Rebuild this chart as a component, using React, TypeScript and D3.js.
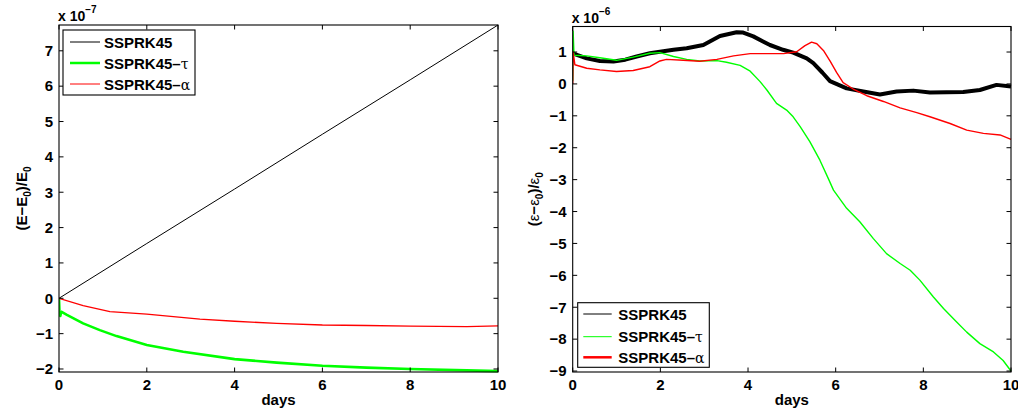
import React from "react";
import * as d3 from "d3";

type P = [number, number];

// ---------- left panel: (E-E0)/E0 (x 1e-7) ----------
const leftBlack: P[] = [[0, 0], [2, 1.55], [4, 3.09], [6, 4.64], [8, 6.18], [10, 7.73]];
const leftGreen: P[] = [
  [0, 0], [0.01, -0.35], [0.03, -0.5], [0.05, -0.38], [0.18, -0.47], [0.55, -0.71], [0.93, -0.9],
  [1.31, -1.07], [2, -1.32], [2.83, -1.51], [4, -1.72], [4.96, -1.82], [6, -1.91],
  [7, -1.96], [8, -2.0], [9.29, -2.04], [10, -2.06],
];
const leftRed: P[] = [
  [0, 0], [0.55, -0.21], [1.16, -0.38], [2, -0.45], [3.21, -0.59], [4, -0.65], [4.96, -0.71],
  [6, -0.755], [7, -0.77], [8, -0.79], [9.29, -0.8], [10, -0.78],
];

// ---------- right panel: (eps-eps0)/eps0 (x 1e-6) ----------
const rightBlack: P[] = [
  [0, 0.96], [0.32, 0.8], [0.62, 0.72], [0.93, 0.7], [1.2, 0.76], [1.46, 0.86], [1.76, 0.96],
  [1.99, 1.01], [2.3, 1.07], [2.6, 1.12], [2.98, 1.22], [3.36, 1.5], [3.74, 1.62], [3.89, 1.61],
  [4.12, 1.49], [4.5, 1.22], [4.8, 1.07], [5.03, 0.98], [5.34, 0.8], [5.49, 0.65], [5.7, 0.35],
  [5.87, 0.09], [6.25, -0.14], [6.63, -0.24], [7.01, -0.33], [7.39, -0.24], [7.77, -0.21],
  [8.15, -0.27], [8.53, -0.26], [8.91, -0.25], [9.29, -0.19], [9.67, -0.03], [10, -0.08],
];
const rightGreen: P[] = [
  [0, 0.1], [0.01, 1.65], [0.03, 0.9], [0.32, 0.88], [0.62, 0.82], [1.0, 0.74], [1.38, 0.84],
  [1.76, 0.96], [1.99, 0.98], [2.3, 0.86], [2.6, 0.77], [2.9, 0.72], [3.29, 0.73], [3.51, 0.68],
  [3.82, 0.58], [4.05, 0.4], [4.27, 0.08], [4.43, -0.19], [4.65, -0.61], [4.88, -0.82],
  [5.03, -1.03], [5.19, -1.34], [5.41, -1.81], [5.64, -2.39], [5.83, -2.96], [5.95, -3.33],
  [6.25, -3.9], [6.55, -4.32], [6.86, -4.85], [7.16, -5.32], [7.47, -5.63], [7.7, -5.84],
  [7.92, -6.15], [8.23, -6.68], [8.46, -7.04], [8.76, -7.46], [8.99, -7.78], [9.29, -8.14],
  [9.6, -8.4], [9.82, -8.67], [10, -9.0],
];
const rightRed: P[] = [
  [0, 0], [0.01, 1.0], [0.05, 0.6], [0.32, 0.49], [0.62, 0.44], [1.0, 0.39], [1.38, 0.42],
  [1.76, 0.54], [1.99, 0.72], [2.14, 0.77], [2.52, 0.74], [2.9, 0.71], [3.29, 0.77],
  [3.67, 0.88], [4.05, 0.95], [4.43, 0.95], [4.81, 0.95], [5.11, 1.01], [5.3, 1.2],
  [5.45, 1.31], [5.57, 1.26], [5.72, 1.05], [5.87, 0.72], [6.02, 0.36], [6.17, 0.04],
  [6.4, -0.16], [6.71, -0.37], [7.09, -0.55], [7.47, -0.75], [7.85, -0.9], [8.15, -1.03],
  [8.61, -1.24], [8.99, -1.45], [9.37, -1.55], [9.75, -1.6], [10, -1.74],
];

const xTicks = [0, 2, 4, 6, 8, 10];
const leftYTicks = [-2, -1, 0, 1, 2, 3, 4, 5, 6, 7];
const rightYTicks = [-9, -8, -7, -6, -5, -4, -3, -2, -1, 0, 1];
const legendNames = ["SSPRK45", "SSPRK45–", "SSPRK45–"];
const legendSymbols = ["", "τ", "α"];
const colors = ["#000000", "#00ff00", "#ff0000"];

const FONT = "'Liberation Sans', Arial, Helvetica, sans-serif";
const fmt = (v: number) => (v < 0 ? "−" + Math.abs(v) : String(v));

type PanelProps = {
  left: number; right: number; top: number; bottom: number;
  yDomain: [number, number];
  yTicks: number[];
  series: P[][];
  widths: number[];
  exponent: string;
  labelMain: "E" | "ε";
  legend: { x0: number; y0: number; x1: number; y1: number; rows: number[]; lx0: number; lx1: number; tx: number; widths: number[] };
};

function Panel(p: PanelProps) {
  const x = d3.scaleLinear().domain([0, 10]).range([p.left, p.right]);
  const y = d3.scaleLinear().domain(p.yDomain).range([p.bottom, p.top]);
  const line = d3.line<P>().x((d) => x(d[0])).y((d) => y(d[1]));
  const tl = 4.5;
  const cy = (p.top + p.bottom) / 2;
  const isE = p.labelMain === "E";
  return (
    <g fontFamily={FONT} fontWeight="bold">
      <defs>
        <clipPath id={"clip" + p.left}>
          <rect x={p.left} y={p.top - 2} width={p.right - p.left + 2} height={p.bottom - p.top + 4} />
        </clipPath>
      </defs>
      <g clipPath={`url(#clip${p.left})`}>
        {p.series.map((s, i) => (
          <path key={i} d={line(s) || ""} fill="none" stroke={colors[i]} strokeWidth={p.widths[i]} strokeLinejoin="round" />
        ))}
      </g>
      {/* box */}
      <rect x={p.left} y={p.top} width={p.right - p.left} height={p.bottom - p.top} fill="none" stroke="#000" strokeWidth={1.1} />
      {xTicks.map((t) => (
        <g key={"x" + t}>
          <line x1={x(t)} x2={x(t)} y1={p.bottom} y2={p.bottom - tl} stroke="#000" />
          <line x1={x(t)} x2={x(t)} y1={p.top} y2={p.top + tl} stroke="#000" />
          <text x={x(t)} y={p.bottom + 17.5} textAnchor="middle" fontSize={15}>{t}</text>
        </g>
      ))}
      {p.yTicks.map((t) => (
        <g key={"y" + t}>
          <line x1={p.left} x2={p.left + tl} y1={y(t)} y2={y(t)} stroke="#000" />
          <line x1={p.right} x2={p.right - tl} y1={y(t)} y2={y(t)} stroke="#000" />
          <text x={p.left - 6} y={y(t) + 5.3} textAnchor="end" fontSize={15}>{fmt(t)}</text>
        </g>
      ))}
      <text x={p.left - 1} y={p.top - 4} fontSize={14}>
        x 10<tspan dy={-8} fontSize={10}>{p.exponent}</tspan>
      </text>
      <text x={(p.left + p.right) / 2} y={p.bottom + 33} textAnchor="middle" fontSize={15}>days</text>
      <text transform={`translate(${p.left - (isE ? 32 : 34)},${cy}) rotate(-90)`} textAnchor="middle" fontSize={15}>
        (<tspan fontWeight={isE ? "bold" : "normal"}>{p.labelMain}</tspan>−<tspan fontWeight={isE ? "bold" : "normal"}>{p.labelMain}</tspan>
        <tspan dy={4} fontSize={10}>0</tspan>
        <tspan dy={-4}>)/</tspan><tspan fontWeight={isE ? "bold" : "normal"}>{p.labelMain}</tspan>
        <tspan dy={4} fontSize={10}>0</tspan>
      </text>
      {/* legend */}
      <rect x={p.legend.x0} y={p.legend.y0} width={p.legend.x1 - p.legend.x0} height={p.legend.y1 - p.legend.y0} fill="#fff" stroke="#000" strokeWidth={1.1} />
      {legendNames.map((n, i) => (
        <g key={n + i}>
          <line x1={p.legend.lx0} x2={p.legend.lx1} y1={p.legend.rows[i]} y2={p.legend.rows[i]} stroke={colors[i]} strokeWidth={p.legend.widths[i]} />
          <text x={p.legend.tx} y={p.legend.rows[i] + 5.5} fontSize={15}>
            {n}<tspan fontWeight="normal" fontFamily="'DejaVu Serif', serif" fontSize={14}>{legendSymbols[i]}</tspan>
          </text>
        </g>
      ))}
    </g>
  );
}

export default function App() {
  return (
    <svg width={1018} height={415} style={{ position: "absolute", left: 0, top: 0, background: "#fff" }}>
      <rect width={1018} height={415} fill="#fff" />
      <Panel
        left={59} right={498} top={25} bottom={372}
        yDomain={[-2.085, 7.73]}
        yTicks={leftYTicks}
        series={[leftBlack, leftGreen, leftRed]}
        widths={[1, 2.6, 1.3]}
        exponent="−7"
        labelMain="E"
        legend={{ x0: 63, y0: 30, x1: 195, y1: 95, rows: [42, 63, 84], lx0: 70, lx1: 100, tx: 104, widths: [1, 2.5, 1] }}
      />
      <Panel
        left={572.7} right={1011} top={26.5} bottom={372}
        yDomain={[-9.03, 1.8]}
        yTicks={rightYTicks}
        series={[rightBlack, rightGreen, rightRed]}
        widths={[4, 1.4, 1.4]}
        exponent="−6"
        labelMain="ε"
        legend={{ x0: 577.7, y0: 302.7, x1: 709.3, y1: 367.3, rows: [314, 336.7, 357.3], lx0: 583.3, lx1: 611.7, tx: 618.3, widths: [1, 1, 2.5] }}
      />
    </svg>
  );
}
